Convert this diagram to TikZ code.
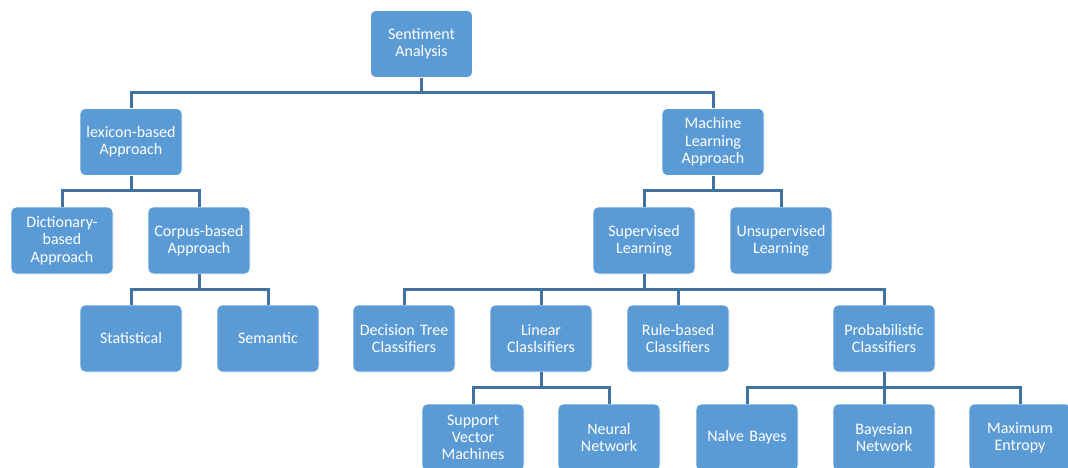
\documentclass[tikz,border=0pt]{standalone}
\usepackage{fontspec}
\setmainfont{Carlito}
\begin{document}
\begin{tikzpicture}[x=1pt,y=1pt,
  box/.style={draw=white, line width=0.8pt, fill=boxblue, rounded corners=5pt,
    minimum width=102pt, minimum height=67pt, text width=100pt, align=center,
    text=white, font=\fontsize{16}{17.3}\selectfont, inner sep=0pt},
  link/.style={draw=linkblue, line width=3pt}]
\definecolor{boxblue}{HTML}{5B9BD5}
\definecolor{linkblue}{HTML}{41719C}
\useasboundingbox (0,0) rectangle (1068,-468);

% level 0
\node[box] (sa)  at (421.5,-44) {Sentiment\\Analysis};
% level 1
\node[box] (lex) at (131,-142) {lexicon-based\\Approach};
\node[box] (ml)  at (713,-142) {Machine\\Learning\\Approach};
% level 2
\node[box] (dict) at (62,-240.5)  {Dictionary-\\based\\Approach};
\node[box] (corp) at (199,-240.5) {Corpus-based\\Approach};
\node[box] (sup)  at (644,-240.5) {Supervised\\Learning};
\node[box] (uns)  at (781,-240.5) {Unsupervised\\Learning};
% level 3
\node[box] (stat) at (131,-338.5) {Statistical};
\node[box] (sem)  at (268,-338.5) {Semantic};
\node[box] (dt)   at (404,-338.5) {Decision Tree\\Classifiers};
\node[box] (lin)  at (541,-338.5) {Linear\\Claslsifiers};
\node[box] (rule) at (678,-338.5) {Rule-based\\Classifiers};
\node[box] (prob) at (884,-338.5) {Probabilistic\\Classifiers};
% level 4
\node[box] (svm)  at (473,-437.5)  {Support\\Vector\\Machines};
\node[box] (nn)   at (609,-437.5)  {Neural\\Network};
\node[box] (nb)   at (747,-437.5)  {Nalve Bayes};
\node[box] (bn)   at (884,-437.5)  {Bayesian\\Network};
\node[box] (me)   at (1020,-437.5) {Maximum\\Entropy};

% elbow connectors: down from the parent, across, then down to the child
\foreach \p/\c in {sa/lex, sa/ml, lex/dict, lex/corp, ml/sup, ml/uns,
                   corp/stat, corp/sem, sup/dt, sup/lin, sup/rule, sup/prob,
                   lin/svm, lin/nn, prob/nb, prob/bn, prob/me}
  \draw[link] (\p.south) -- ++(0,-15) -| (\c.north);
\end{tikzpicture}
\end{document}
